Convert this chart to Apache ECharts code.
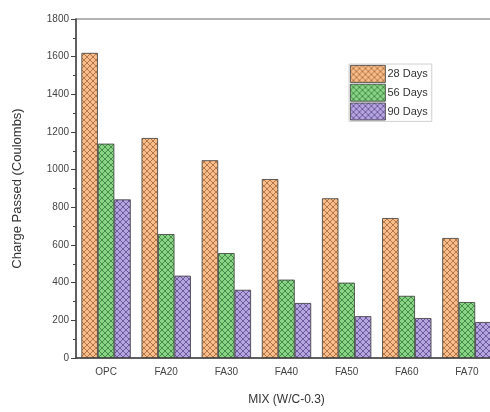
<!DOCTYPE html>
<html>
<head>
<meta charset="utf-8">
<script src="https://cdn.jsdelivr.net/npm/echarts@6/dist/echarts.min.js"></script>
<style>
  html, body { margin: 0; padding: 0; background: #fff; overflow: hidden; }
  #chart { width: 500px; height: 412px; }
</style>
</head>
<body>
<div id="chart"></div>
<script>
// categories and values
var mixes = ['OPC', 'FA20', 'FA30', 'FA40', 'FA50', 'FA60', 'FA70']
var days28 = [1620, 1168, 1050, 950, 848, 743, 637]
var days56 = [1138, 658, 557, 416, 400, 330, 297]
var days90 = [842, 437, 362, 292, 222, 212, 191]
var seriesNames = ['28 Days', '56 Days', '90 Days']

// crosshatch fill, like the origin-style pattern in the figure
function hatch(base, line) {
  var c = document.createElement('canvas')
  c.width = 6
  c.height = 6
  var ctx = c.getContext('2d')
  ctx.fillStyle = base
  ctx.fillRect(0, 0, 6, 6)
  ctx.strokeStyle = line
  ctx.lineWidth = 1
  ctx.beginPath()
  ctx.moveTo(0, 0); ctx.lineTo(6, 6)
  ctx.moveTo(6, 0); ctx.lineTo(0, 6)
  ctx.stroke()
  return { image: c, repeat: 'repeat' }
}

var fills = [
  hatch('#f8bd88', 'rgba(150,90,50,0.7)'),
  hatch('#8ad486', 'rgba(40,110,50,0.7)'),
  hatch('#b5a5de', 'rgba(80,60,130,0.7)')
]
var data = [days28, days56, days90]

var chart = echarts.init(document.getElementById('chart'))
var font = 'Liberation Sans, Arial, sans-serif'

var series = data.map(function(v, i) {
  return {
    name: seriesNames[i],
    type: 'bar',
    data: v,
    barGap: '0%',
    barCategoryGap: '18%',
    itemStyle: {
      color: fills[i],
      borderColor: '#3a3a3a',
      borderWidth: 0.8
    },
    animation: false
  }
})

chart.setOption({
  backgroundColor: '#fff',
  grid: {
    left: 76,
    top: 19,
    right: 3,
    bottom: 54,
    show: true,
    borderColor: '#999',
    borderWidth: 1.5
  },
  legend: {
    orient: 'vertical',
    left: 349,
    top: 64,
    icon: 'rect',
    itemWidth: 35,
    itemHeight: 17,
    itemGap: 1,
    padding: [1, 4, 1, 1],
    borderColor: '#d0d0d0',
    borderWidth: 1,
    itemStyle: { borderWidth: 0.8 },
    textStyle: { fontFamily: font, fontSize: 11, color: '#333', padding: [0, 0, 0, -3] },
    data: seriesNames
  },
  xAxis: {
    type: 'category',
    data: mixes,
    name: 'MIX (W/C-0.3)',
    nameLocation: 'middle',
    nameGap: 36,
    nameTextStyle: { fontFamily: font, fontSize: 12, color: '#333' },
    axisLine: { lineStyle: { color: '#444', width: 1.5 } },
    axisTick: { alignWithLabel: true, length: 4, lineStyle: { color: '#444' } },
    axisLabel: { fontFamily: font, fontSize: 10, color: '#444', margin: 9 }
  },
  yAxis: {
    type: 'value',
    min: 0,
    max: 1800,
    interval: 200,
    name: 'Charge Passed (Coulombs)',
    nameLocation: 'middle',
    nameGap: 52,
    nameTextStyle: { fontFamily: font, fontSize: 13, color: '#333' },
    axisLine: { show: true, lineStyle: { color: '#444', width: 1.5 } },
    axisTick: { show: true, length: 5, lineStyle: { color: '#444' } },
    minorTick: { show: true, splitNumber: 2, length: 3, lineStyle: { color: '#444' } },
    splitLine: { show: false },
    axisLabel: {
      fontFamily: font, fontSize: 10, color: '#444', margin: 7,
      formatter: function(v) { return String(v) }
    }
  },
  series: series
})
</script>
</body>
</html>
